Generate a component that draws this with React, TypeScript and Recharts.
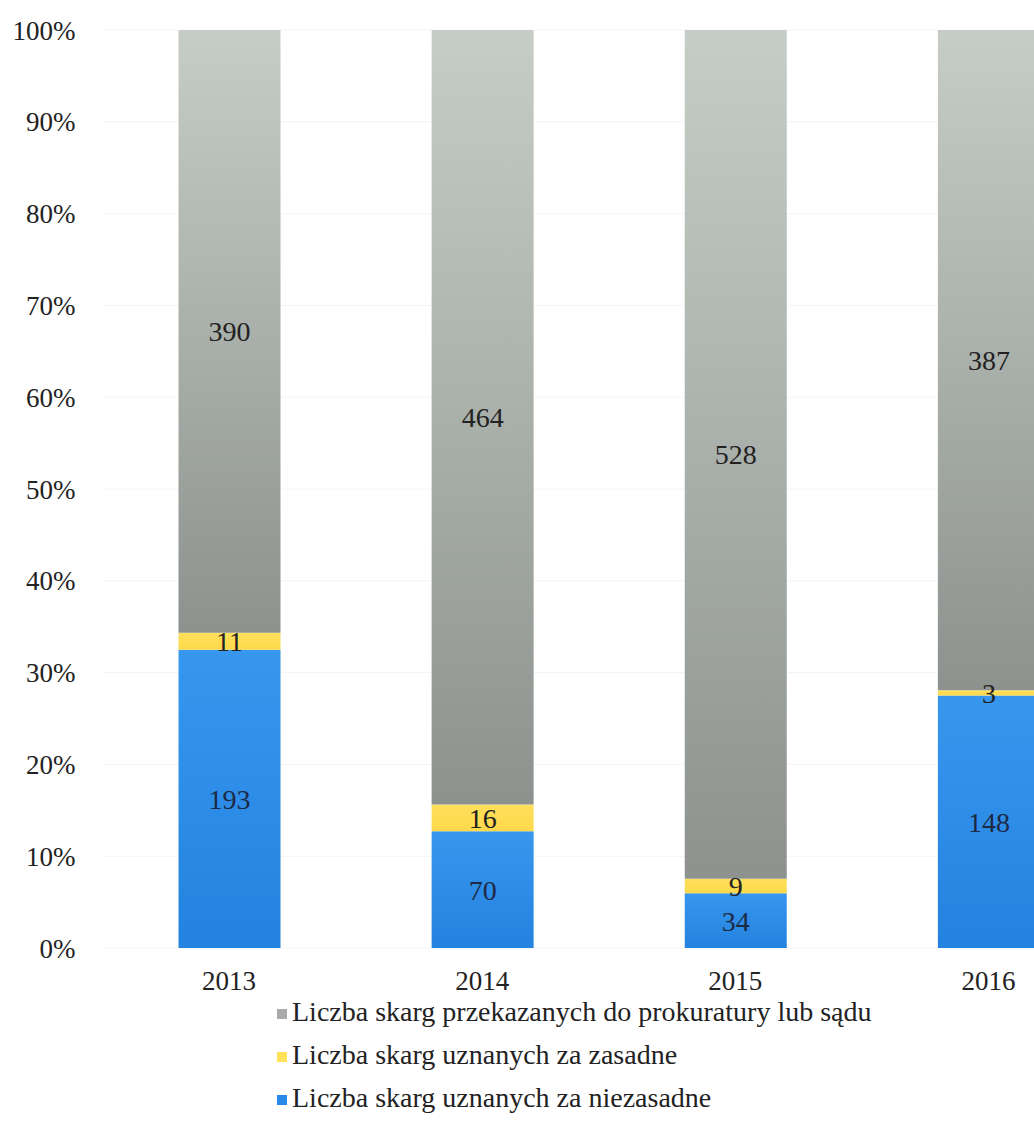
import { BarChart, Bar, XAxis, YAxis, CartesianGrid, Legend, LabelList } from "recharts";

const years = ["2013", "2014", "2015", "2016"];
const niezasadne = [193, 70, 34, 148];
const zasadne = [11, 16, 9, 3];
const przekazane = [390, 464, 528, 387];
const yTicks = [0, 0.1, 0.2, 0.3, 0.4, 0.5, 0.6, 0.7, 0.8, 0.9, 1];

const data = years.map((rok, i) => ({
  rok,
  niezasadne: niezasadne[i],
  zasadne: zasadne[i],
  przekazane: przekazane[i],
}));

const font = "Liberation Serif";

const legendItems = [
  { name: "Liczba skarg przekazanych do prokuratury lub sądu", color: "#a9aba9" },
  { name: "Liczba skarg uznanych za zasadne", color: "#ffe15a" },
  { name: "Liczba skarg uznanych za niezasadne", color: "#2a88e6" },
];

function LegendBox() {
  return (
    <div style={{ height: 159, paddingTop: 2, boxSizing: "border-box", fontFamily: font, fontSize: 28, color: "#222" }}>
      {legendItems.map((it) => (
        <div key={it.name} style={{ height: 43, lineHeight: "43px", whiteSpace: "nowrap", display: "flex", alignItems: "center" }}>
          <span style={{ display: "inline-block", width: 10, height: 10, background: it.color, marginRight: 5, marginTop: 4 }} />
          <span>{it.name}</span>
        </div>
      ))}
    </div>
  );
}

export default function App() {
  return (
    <div style={{ position: "absolute", left: 0, top: 0, width: 1034, height: 1147, overflow: "hidden", background: "#fff" }}>
      <BarChart
        width={1115}
        height={1147}
        data={data}
        stackOffset="expand"
        margin={{ top: 30, right: 0, bottom: 0, left: 0 }}
        barSize={102}
      >
        <defs>
          <linearGradient id="gGray" x1="0" y1="0" x2="0" y2="1">
            <stop offset="0%" stopColor="#c6cdc6" />
            <stop offset="100%" stopColor="#8d928e" />
          </linearGradient>
          <linearGradient id="gBlue" x1="0" y1="0" x2="0" y2="1">
            <stop offset="0%" stopColor="#3797ee" />
            <stop offset="100%" stopColor="#2482e0" />
          </linearGradient>
          <linearGradient id="gYellow" x1="0" y1="0" x2="0" y2="1">
            <stop offset="0%" stopColor="#ffe05c" />
            <stop offset="100%" stopColor="#fdd84a" />
          </linearGradient>
        </defs>
        <CartesianGrid vertical={false} stroke="#f4f4f4" />
        <XAxis
          dataKey="rok"
          axisLine={false}
          tickLine={false}
          tickSize={0}
          tickMargin={23}
          height={40}
          tick={{ fontSize: 27, fill: "#222", fontFamily: font }}
        />
        <YAxis
          width={102.5}
          ticks={yTicks}
          domain={[0, 1]}
          axisLine={false}
          tickLine={false}
          tickSize={0}
          tickMargin={27}
          tickFormatter={(v) => `${Math.round(v * 100)}%`}
          tick={{ fontSize: 27, fill: "#222", fontFamily: font }}
        />
        <Legend verticalAlign="bottom" align="left" wrapperStyle={{ left: 277 }} content={() => <LegendBox />} />
        <Bar dataKey="niezasadne" stackId="a" fill="url(#gBlue)" isAnimationActive={false}>
          <LabelList dataKey="niezasadne" position="center" style={{ fontSize: 28, fill: "#1d2a44", fontFamily: font }} />
        </Bar>
        <Bar dataKey="zasadne" stackId="a" fill="url(#gYellow)" isAnimationActive={false}>
          <LabelList dataKey="zasadne" position="center" style={{ fontSize: 28, fill: "#222", fontFamily: font }} />
        </Bar>
        <Bar dataKey="przekazane" stackId="a" fill="url(#gGray)" isAnimationActive={false}>
          <LabelList dataKey="przekazane" position="center" style={{ fontSize: 28, fill: "#222", fontFamily: font }} />
        </Bar>
      </BarChart>
    </div>
  );
}
